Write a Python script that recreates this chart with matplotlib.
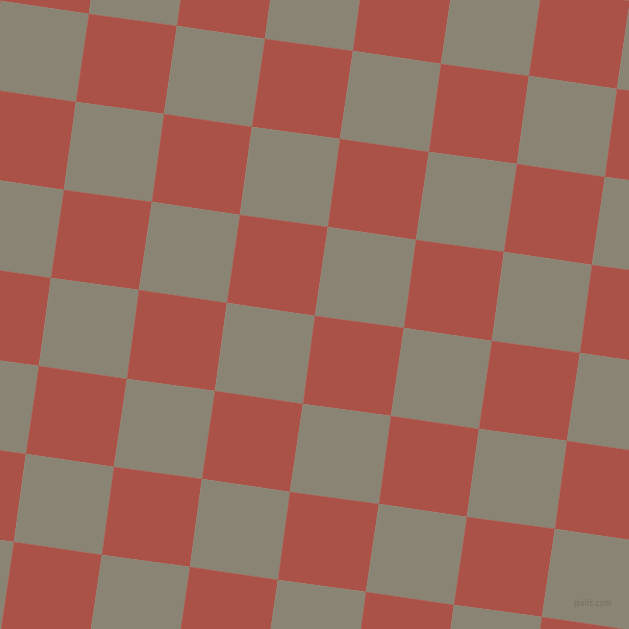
import numpy as np
import matplotlib
matplotlib.use("Agg")
import matplotlib.pyplot as plt
from matplotlib.colors import ListedColormap

# Checkerboard description
colors = ["#AB5248", "#8A8474"]   # red, gray
rows = list(range(-2, 9))
cols = list(range(-2, 9))
pattern = [[(r + c) % 2 for c in cols[:-1]] for r in rows[:-1]]
side = 88.98          # pixel size of one square
angle_deg = 8.08      # rotation
origin = (88.7, 13.7) # a corner of a red square
watermark = "pixlis.com"

W = H = 629
fig = plt.figure(figsize=(W / 100, H / 100), dpi=100)
ax = fig.add_axes([0, 0, 1, 1])
ax.set_xlim(0, W)
ax.set_ylim(H, 0)
ax.axis("off")

th = np.deg2rad(angle_deg)
a, b = side * np.cos(th), side * np.sin(th)
I, J = np.meshgrid(np.array(cols, float), np.array(rows, float))
X = origin[0] + I * a - J * b
Y = origin[1] + I * b + J * a

ax.pcolormesh(X, Y, np.array(pattern), cmap=ListedColormap(colors),
              vmin=0, vmax=1, shading="flat", edgecolors="face",
              linewidth=0.3, antialiased=True)

ax.text(593, 604, watermark, fontsize=5.5, color="#76705f",
        ha="center", va="center")

fig.savefig("out.png", dpi=100)
